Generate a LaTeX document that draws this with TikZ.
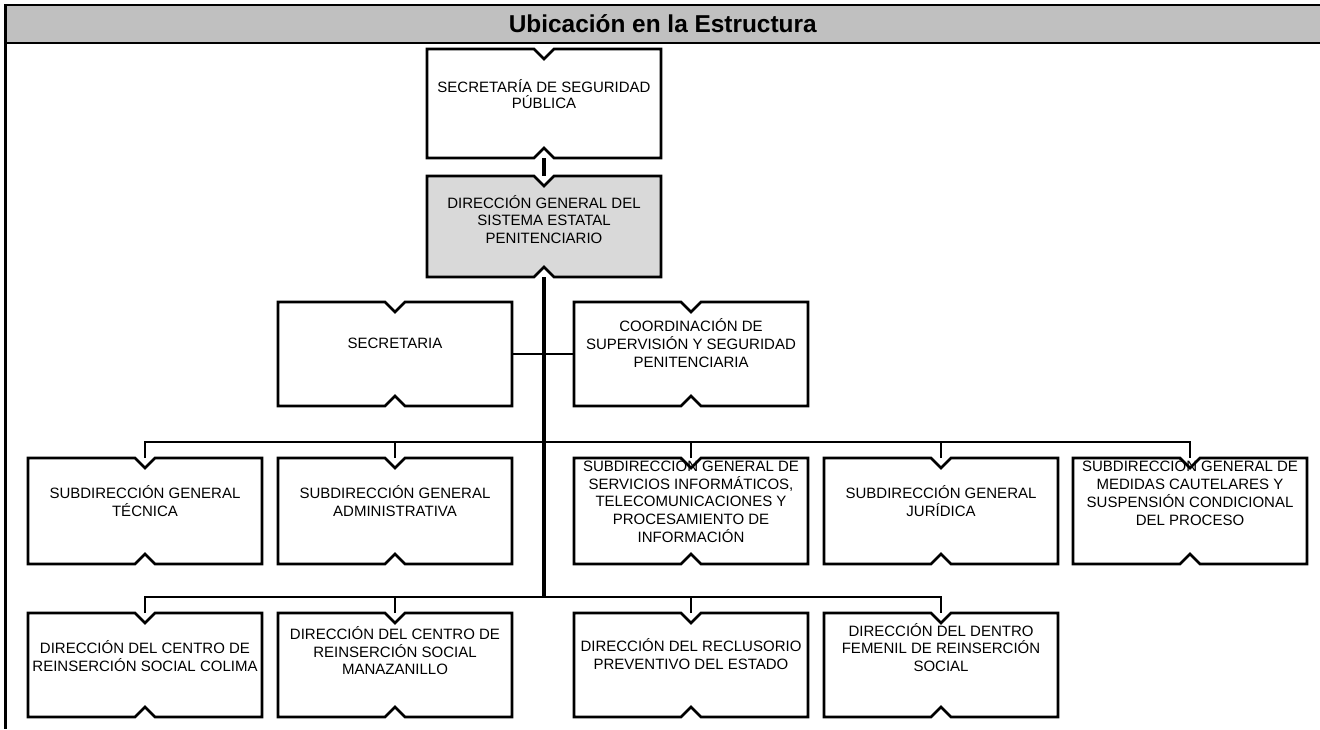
\documentclass[tikz,border=0pt]{standalone}
\usepackage{fontspec}
\setmainfont{Liberation Sans}
\usetikzlibrary{backgrounds}
\newdimen\px \px=0.5pt
\definecolor{bandgray}{RGB}{192,192,192}
\definecolor{dggray}{RGB}{217,217,217}
\tikzset{
  orgbox/.style={inner sep=0pt, outer sep=0pt},
  frame/.style={line width=1.3pt, draw=black},
  trunk/.style={line width=2pt},
  bus/.style={line width=1.3pt},
  link/.style={line width=0.85pt},
  border/.style={line width=1.1pt},
  band/.style={inner sep=0pt, outer sep=0pt, fill=bandgray, font=\bfseries\fontsize{12.2pt}{14pt}\selectfont},
  notched/.style={insert path={(#1.north west) -- ([xshift=-10\px]#1.north) -- ([yshift=-10\px]#1.north)
    -- ([xshift=10\px]#1.north) -- (#1.north east) -- (#1.south east) -- ([xshift=10\px]#1.south)
    -- ([yshift=10\px]#1.south) -- ([xshift=-10\px]#1.south) -- (#1.south west) -- cycle}},
}
% #1 name, #2 left, #3 top, #4 height, #5 text centre y, #6 lines, #7 line spacing (px), #8 text
\newcommand\orgnode[8]{%
  \pgfmathsetmacro\gapv{#5-#3-(#6-1)*#7/2+5.4-#7}%
  \node[orgbox, anchor=north west] (#1) at (#2,#3) {\parbox[c][#4\px][t]{234\px}{\centering
    \leftskip=-20\px plus 1fil\rightskip=-20\px plus 1fil
    \fontsize{7.5pt}{#7\px}\selectfont\vspace*{\gapv\px}\vbox{}#8\par}};%
}
\begin{document}
\begin{tikzpicture}[x=0.5pt, y=-0.5pt]
\useasboundingbox (0,0) rectangle (1320,729);

% header band
\node[band, anchor=north west, minimum width=1314.5\px, minimum height=38.3\px] (title) at (5.5,5) {Ubicación en la Estructura};
\coordinate (lb) at (5.5,729);

% boxes
\orgnode{ssp}{427}{49}{109}{95}{2}{16.8}{SECRETARÍA DE SEGURIDAD\\PÚBLICA}
\orgnode{dg}{427}{176}{101}{220.3}{3}{17.5}{DIRECCIÓN GENERAL DEL\\SISTEMA ESTATAL\\PENITENCIARIO}
\orgnode{sec}{278}{302}{104}{343.3}{1}{17.8}{SECRETARIA}
\orgnode{coo}{574}{302}{104}{343.8}{3}{17.8}{COORDINACIÓN DE\\SUPERVISIÓN Y SEGURIDAD\\PENITENCIARIA}
\orgnode{tec}{28}{458}{106}{501.7}{2}{17.9}{SUBDIRECCIÓN GENERAL\\TÉCNICA}
\orgnode{adm}{278}{458}{106}{501.7}{2}{17.9}{SUBDIRECCIÓN GENERAL\\ADMINISTRATIVA}
\orgnode{ser}{574}{458}{106}{501.5}{5}{17.9}{SUBDIRECCIÓN GENERAL DE\\SERVICIOS INFORMÁTICOS,\\TELECOMUNICACIONES Y\\PROCESAMIENTO DE\\INFORMACIÓN}
\orgnode{jur}{824}{458}{106}{501.7}{2}{17.9}{SUBDIRECCIÓN GENERAL\\JURÍDICA}
\orgnode{med}{1073}{458}{106}{492.8}{4}{17.9}{SUBDIRECCIÓN GENERAL DE\\MEDIDAS CAUTELARES Y\\SUSPENSIÓN CONDICIONAL\\DEL PROCESO}
\orgnode{col}{28}{613}{104}{657}{2}{17.5}{DIRECCIÓN DEL CENTRO DE\\REINSERCIÓN SOCIAL COLIMA}
\orgnode{man}{278}{613}{104}{652}{3}{17.5}{DIRECCIÓN DEL CENTRO DE\\REINSERCIÓN SOCIAL\\MANAZANILLO}
\orgnode{rec}{574}{613}{104}{655}{2}{17.5}{DIRECCIÓN DEL RECLUSORIO\\PREVENTIVO DEL ESTADO}
\orgnode{fem}{824}{613}{104}{648.3}{3}{17.5}{DIRECCIÓN DEL DENTRO\\FEMENIL DE REINSERCIÓN\\SOCIAL}

% box fills behind the texts
\begin{scope}[on background layer]
\foreach \n/\f in {ssp/white,dg/dggray,sec/white,coo/white,tec/white,adm/white,ser/white,jur/white,med/white,col/white,man/white,rec/white,fem/white}{
  \fill[\f, notched=\n];
}
\end{scope}
% notched outlines over the texts
\foreach \n in {ssp,dg,sec,coo,tec,adm,ser,jur,med,col,man,rec,fem}{
  \draw[frame, notched=\n];
}

% header lines
\draw[border] (title.north west) -- (title.north east);
\draw[border] (title.south west) -- (title.south east);
\draw[border] ([yshift=1\px]title.north west) -- (lb);

% connectors
\coordinate (bus3) at (544,442);
\coordinate (bus4) at (544,597);
\draw[trunk] (ssp.south) -- (dg.north);
\draw[trunk] (dg.south) -- (dg.south |- bus4);
\draw[link] (sec.east) -- (coo.west);
\draw[bus] (tec.north) -- (tec.north |- bus3) -| (med.north);
\foreach \n in {adm,ser,jur}{\draw[bus] (\n.north) -- (\n.north |- bus3);}
\draw[bus] (col.north) -- (col.north |- bus4) -| (fem.north);
\foreach \n in {man,rec}{\draw[bus] (\n.north) -- (\n.north |- bus4);}
\end{tikzpicture}
\end{document}
